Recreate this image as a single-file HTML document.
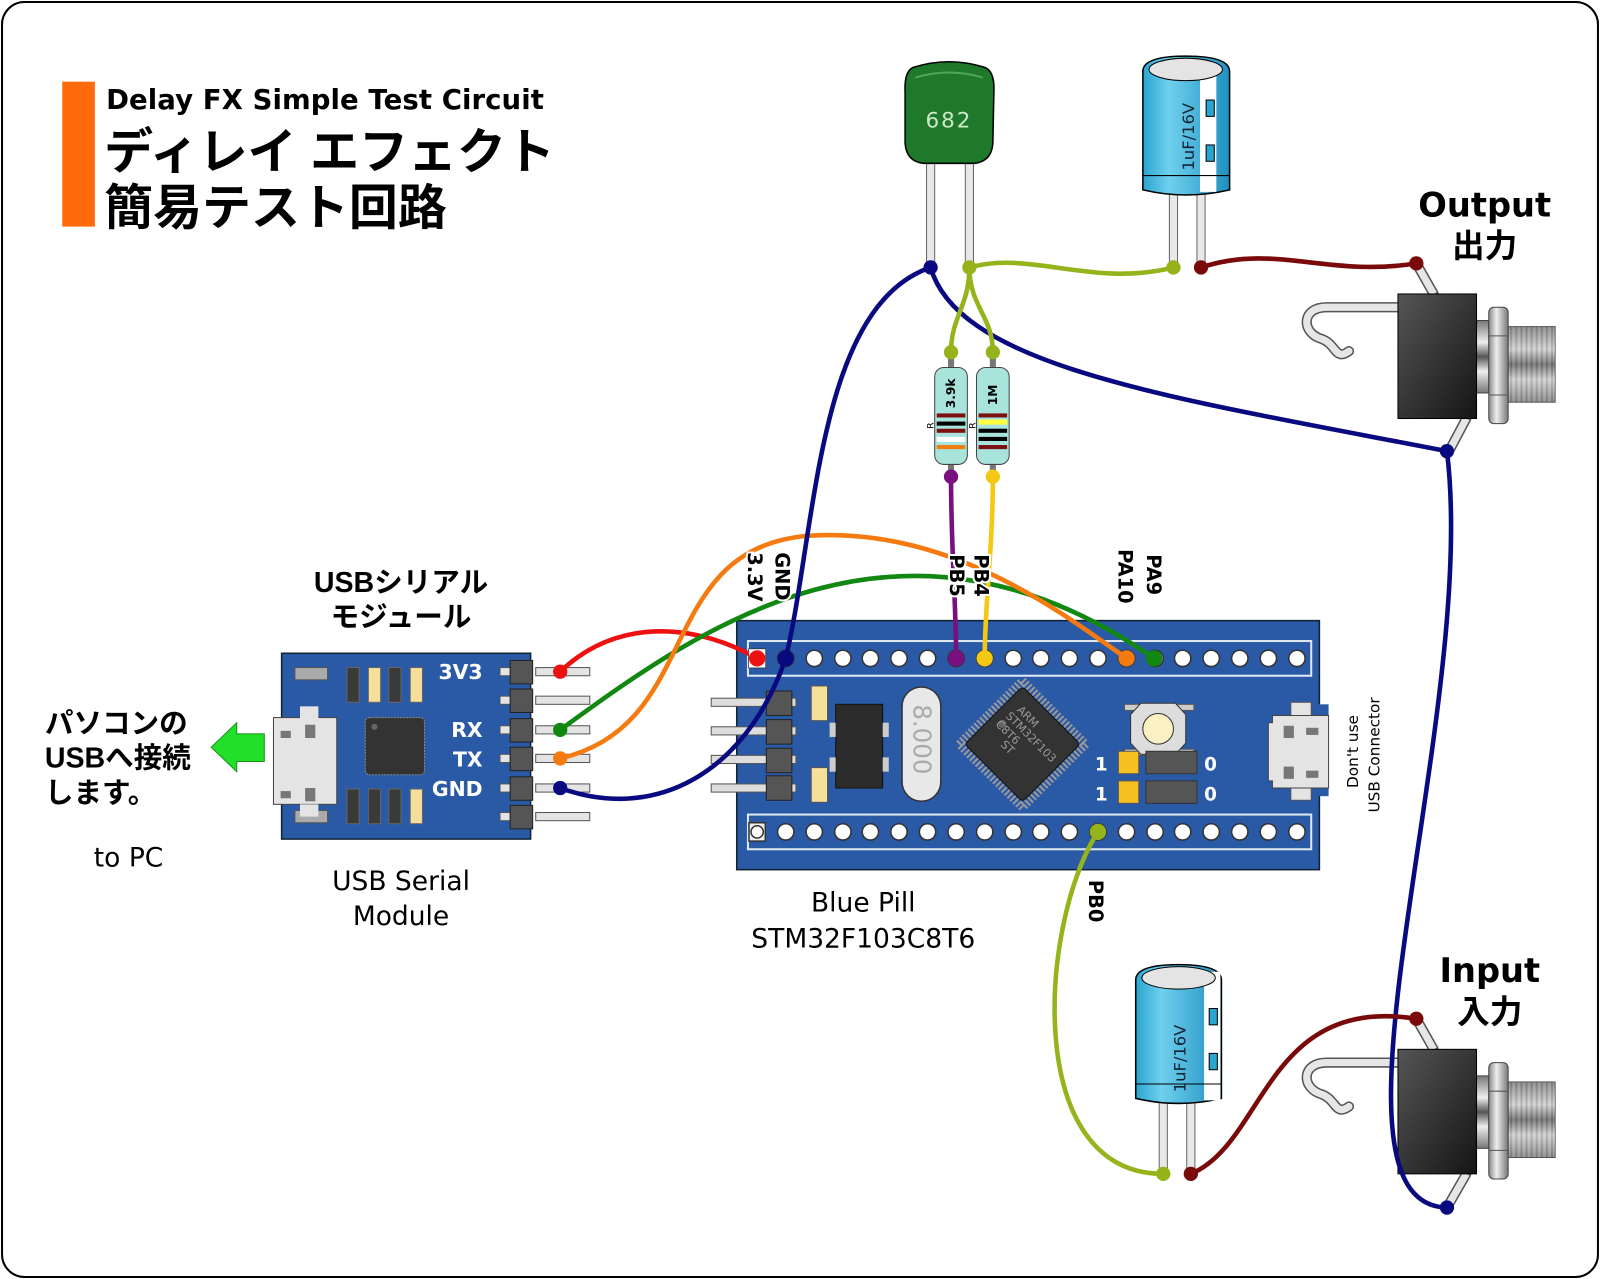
<!DOCTYPE html>
<html><head><meta charset="utf-8"><style>
html,body{margin:0;padding:0;background:#fff;width:1600px;height:1279px;overflow:hidden}
svg{display:block}
text{font-family:"DejaVu Sans","Liberation Sans","Noto Sans CJK JP",sans-serif}
.jp{font-family:"Liberation Sans","Noto Sans CJK JP",sans-serif}
</style></head><body>
<svg width="1600" height="1279" viewBox="0 0 1568 1253" preserveAspectRatio="none" xmlns="http://www.w3.org/2000/svg">
<defs>
<linearGradient id="jb" x1="0" y1="0" x2="1" y2="1"><stop offset="0" stop-color="#555"/><stop offset="1" stop-color="#151515"/></linearGradient>
<linearGradient id="th" x1="0" y1="0" x2="0" y2="1"><stop offset="0" stop-color="#777"/><stop offset=".3" stop-color="#eee"/><stop offset=".5" stop-color="#555"/><stop offset=".7" stop-color="#eee"/><stop offset="1" stop-color="#777"/></linearGradient>
<linearGradient id="nt" x1="0" y1="0" x2="1" y2="0"><stop offset="0" stop-color="#888"/><stop offset=".4" stop-color="#eee"/><stop offset="1" stop-color="#777"/></linearGradient>
<pattern id="thr" width="5" height="10" patternUnits="userSpaceOnUse"><rect width="5" height="10" fill="#bbb"/><rect width="2" height="10" fill="#777"/></pattern>
<linearGradient id="ec" x1="0" y1="0" x2="1" y2="0"><stop offset="0" stop-color="#2aa5d0"/><stop offset=".3" stop-color="#6fd0ee"/><stop offset="1" stop-color="#1f90c0"/></linearGradient>
<g id="jack">
<path d="M0,-3 L-70,-3 C-95,-3 -95,22 -75,28 C-60,33 -62,50 -48,40" fill="none" stroke="#555" stroke-width="10" stroke-linecap="round"/>
<path d="M0,-3 L-70,-3 C-95,-3 -95,22 -75,28 C-60,33 -62,50 -48,40" fill="none" stroke="#e6e6e6" stroke-width="7" stroke-linecap="round"/>
<rect x="76" y="10" width="13" height="71" fill="url(#th)" stroke="#444"/>
<rect x="108" y="16" width="46" height="74" fill="url(#thr)" stroke="#444"/>
<rect x="108" y="16" width="46" height="74" fill="url(#th)" opacity=".55"/>
<rect x="89" y="-3" width="19" height="114" rx="5" fill="url(#nt)" stroke="#444"/>
<line x1="89" y1="25" x2="108" y2="25" stroke="#555"/><line x1="89" y1="83" x2="108" y2="83" stroke="#555"/>
<rect x="0" y="-16" width="77" height="122" fill="url(#jb)" stroke="#000"/>
</g>
</defs>
<rect x="2" y="2" width="1564" height="1249" rx="22" fill="#fff" stroke="#000" stroke-width="2"/>

<!-- title -->
<rect x="61" y="80" width="32" height="142" fill="#ff6a0c"/>
<text x="104" y="107" font-size="27" font-weight="bold" textLength="429">Delay FX Simple Test Circuit</text>
<text class="jp" x="102" y="165" font-size="48" font-weight="bold">ディレイ エフェクト</text>
<text class="jp" x="102" y="220" font-size="48" font-weight="bold">簡易テスト回路</text>

<!-- ceramic cap -->
<rect x="908" y="150" width="8" height="112" fill="#e8e8e8" stroke="#666"/>
<rect x="946" y="150" width="8" height="112" fill="#e8e8e8" stroke="#666"/>
<path d="M895,66 Q930,55 965,66 Q975,70 974,90 L973,140 Q972,158 955,160 L905,160 Q888,158 887,140 L887,90 Q886,70 895,66Z" fill="#1e7a2a" stroke="#000" stroke-width="1.5"/>
<path d="M897,76 Q930,66 963,76" fill="none" stroke="#4da65a" stroke-width="2"/>
<text x="930" y="125" font-size="21" fill="#cfe8c9" text-anchor="middle" letter-spacing="2">682</text>

<!-- electrolytic top -->
<rect x="1146" y="185" width="8" height="77" fill="#e8e8e8" stroke="#666"/>
<rect x="1173" y="185" width="8" height="77" fill="#e8e8e8" stroke="#666"/>
<path d="M1120,70 Q1120,55 1162,55 Q1205,55 1205,70 L1205,186 Q1162,196 1120,186Z" fill="url(#ec)" stroke="#000" stroke-width="1.5"/>
<rect x="1176" y="62" width="16" height="126" fill="#fff"/>
<rect x="1182" y="98" width="8" height="16" fill="#2aa5d0" stroke="#000"/><rect x="1182" y="142" width="8" height="16" fill="#2aa5d0" stroke="#000"/>
<ellipse cx="1162" cy="68" rx="36" ry="11" fill="#e4e4e4" stroke="#000"/>
<line x1="1120" y1="172" x2="1205" y2="172" stroke="#000"/>
<text transform="translate(1170,167) rotate(-90)" font-size="16" fill="#123">1uF/16V</text>

<!-- electrolytic bottom -->
<rect x="1136" y="1075" width="8" height="75" fill="#e8e8e8" stroke="#666"/>
<rect x="1163" y="1075" width="8" height="75" fill="#e8e8e8" stroke="#666"/>
<path d="M1113,960 Q1113,945 1155,945 Q1197,945 1197,960 L1197,1076 Q1155,1086 1113,1076Z" fill="url(#ec)" stroke="#000" stroke-width="1.5"/>
<rect x="1180" y="952" width="16" height="126" fill="#fff"/>
<rect x="1185" y="988" width="8" height="16" fill="#2aa5d0" stroke="#000"/><rect x="1185" y="1032" width="8" height="16" fill="#2aa5d0" stroke="#000"/>
<ellipse cx="1155" cy="958" rx="36" ry="11" fill="#e4e4e4" stroke="#000"/>
<line x1="1113" y1="1062" x2="1197" y2="1062" stroke="#000"/>
<text transform="translate(1162,1070) rotate(-90)" font-size="16" fill="#123">1uF/16V</text>

<!-- resistors -->
<g>
<rect x="929" y="345" width="6" height="120" fill="#777"/>
<rect x="970" y="345" width="6" height="120" fill="#777"/>
<rect x="916" y="360" width="32" height="95" rx="9" fill="#a8e4dc" stroke="#444"/>
<rect x="957" y="360" width="32" height="95" rx="9" fill="#a8e4dc" stroke="#444"/>
<rect x="918" y="405" width="28" height="4" fill="#7a1010"/><rect x="918" y="413" width="28" height="4" fill="#000"/><rect x="918" y="420" width="28" height="4" fill="#7a1010"/><rect x="918" y="428" width="28" height="5" fill="#fff"/><rect x="918" y="436" width="28" height="4" fill="#f07d10"/>
<rect x="959" y="405" width="28" height="4" fill="#7a1010"/><rect x="959" y="411" width="28" height="5" fill="#ffff40"/><rect x="959" y="420" width="28" height="4" fill="#000"/><rect x="959" y="428" width="28" height="4" fill="#000"/><rect x="959" y="436" width="28" height="4" fill="#7a1010"/>
<text transform="translate(936,400) rotate(-90)" font-size="12" font-weight="bold">3.9k</text>
<text transform="translate(977,397) rotate(-90)" font-size="12" font-weight="bold">1M</text>
<text transform="translate(915,420) rotate(-90)" font-size="9">R</text>
<text transform="translate(956,420) rotate(-90)" font-size="9">R</text>
</g>

<!-- jacks -->
<g transform="translate(1370,304)">
<path d="M18,-46 L35,-16" stroke="#555" stroke-width="10" stroke-linecap="round"/><path d="M18,-46 L35,-16" stroke="#e6e6e6" stroke-width="7"/>
<path d="M50,138 L67,106" stroke="#555" stroke-width="10" stroke-linecap="round"/><path d="M50,138 L67,106" stroke="#e6e6e6" stroke-width="7"/>
<use href="#jack"/></g>
<g transform="translate(1370,1044)">
<path d="M18,-46 L35,-16" stroke="#555" stroke-width="10" stroke-linecap="round"/><path d="M18,-46 L35,-16" stroke="#e6e6e6" stroke-width="7"/>
<path d="M48,139 L67,106" stroke="#555" stroke-width="10" stroke-linecap="round"/><path d="M48,139 L67,106" stroke="#e6e6e6" stroke-width="7"/>
<use href="#jack"/></g>
<text x="1455" y="212" font-size="33" font-weight="bold" text-anchor="middle">Output</text>
<text class="jp" x="1455" y="252" font-size="32" font-weight="bold" text-anchor="middle">出力</text>
<text x="1460" y="962" font-size="33" font-weight="bold" text-anchor="middle">Input</text>
<text class="jp" x="1460" y="1002" font-size="32" font-weight="bold" text-anchor="middle">入力</text>

<!-- Blue pill -->
<rect x="722" y="608" width="571" height="244" fill="#2a5aa6" stroke="#123" stroke-width="1.5"/>
<rect x="733" y="628" width="552" height="34" fill="none" stroke="#dfe8f5" stroke-width="2"/>
<rect x="733" y="798" width="552" height="34" fill="none" stroke="#dfe8f5" stroke-width="2"/>
<g fill="#fff" stroke="#333" stroke-width="1.5">
<rect x="734" y="636" width="16" height="18" fill="#eee"/><rect x="734" y="806" width="16" height="18" fill="#eee"/>
<circle cx="770" cy="645" r="8"/><circle cx="798" cy="645" r="8"/><circle cx="826" cy="645" r="8"/><circle cx="853" cy="645" r="8"/><circle cx="881" cy="645" r="8"/><circle cx="909" cy="645" r="8"/><circle cx="937" cy="645" r="8"/><circle cx="965" cy="645" r="8"/><circle cx="993" cy="645" r="8"/><circle cx="1020" cy="645" r="8"/><circle cx="1048" cy="645" r="8"/><circle cx="1076" cy="645" r="8"/><circle cx="1104" cy="645" r="8"/><circle cx="1132" cy="645" r="8"/><circle cx="1159" cy="645" r="8"/><circle cx="1187" cy="645" r="8"/><circle cx="1215" cy="645" r="8"/><circle cx="1243" cy="645" r="8"/><circle cx="1271" cy="645" r="8"/>
<circle cx="742" cy="815" r="6"/><circle cx="770" cy="815" r="8"/><circle cx="798" cy="815" r="8"/><circle cx="826" cy="815" r="8"/><circle cx="853" cy="815" r="8"/><circle cx="881" cy="815" r="8"/><circle cx="909" cy="815" r="8"/><circle cx="937" cy="815" r="8"/><circle cx="965" cy="815" r="8"/><circle cx="993" cy="815" r="8"/><circle cx="1020" cy="815" r="8"/><circle cx="1048" cy="815" r="8"/><circle cx="1076" cy="815" r="8"/><circle cx="1104" cy="815" r="8"/><circle cx="1132" cy="815" r="8"/><circle cx="1159" cy="815" r="8"/><circle cx="1187" cy="815" r="8"/><circle cx="1215" cy="815" r="8"/><circle cx="1243" cy="815" r="8"/><circle cx="1271" cy="815" r="8"/>
</g>
<!-- left header -->
<g fill="#ddd" stroke="#555"><rect x="697" y="684" width="83" height="8"/><rect x="697" y="712" width="83" height="8"/><rect x="697" y="740" width="83" height="8"/><rect x="697" y="768" width="83" height="8"/></g>
<g fill="#555" stroke="#222"><rect x="751" y="677" width="25" height="24"/><rect x="751" y="705" width="25" height="24"/><rect x="751" y="733" width="25" height="24"/><rect x="751" y="760" width="25" height="24"/></g>
<rect x="795" y="672" width="16" height="34" fill="#f5df9a" stroke="#555"/><rect x="795" y="752" width="16" height="34" fill="#f5df9a" stroke="#555"/>
<rect x="819" y="690" width="46" height="82" fill="#2b2b2b" stroke="#111"/>
<rect x="813" y="708" width="6" height="14" fill="#ccc"/><rect x="865" y="708" width="6" height="14" fill="#ccc"/><rect x="813" y="742" width="6" height="14" fill="#ccc"/><rect x="865" y="742" width="6" height="14" fill="#ccc"/>
<rect x="884" y="673" width="38" height="112" rx="19" fill="#e8e8e8" stroke="#333" stroke-width="1.5"/>
<text transform="translate(895,690) rotate(90)" font-size="24" fill="#aaa">8.000</text>
<g transform="translate(1002,729) rotate(45)"><rect x="-44" y="-44" width="88" height="88" fill="none" stroke="#999" stroke-width="8" stroke-dasharray="2,2"/><rect x="-40" y="-40" width="80" height="80" rx="4" fill="#333" stroke="#111"/><circle cx="-28" cy="0" r="4" fill="#666"/></g>
<text transform="translate(996,696) rotate(45)" font-size="11" fill="#999">ARM</text>
<text transform="translate(985,702) rotate(45)" font-size="11" fill="#999">STM32F103</text>
<text transform="translate(975,710) rotate(45)" font-size="11" fill="#999">C8T6</text>
<text transform="translate(980,730) rotate(45)" font-size="11" fill="#999">ST</text>
<rect x="1102" y="690" width="68" height="6" fill="#ccc" stroke="#555"/><rect x="1102" y="734" width="68" height="6" fill="#ccc" stroke="#555"/>
<path d="M1118,689 L1152,689 L1162,700 L1162,728 L1152,739 L1118,739 L1108,728 L1108,700Z" fill="#ddd" stroke="#333"/>
<circle cx="1135" cy="714" r="15" fill="#fbefc4" stroke="#333"/>
<rect x="1096" y="736" width="20" height="22" fill="#f5c020" stroke="#555"/><rect x="1096" y="765" width="20" height="22" fill="#f5c020" stroke="#555"/>
<rect x="1123" y="736" width="50" height="22" fill="#555" stroke="#333"/><rect x="1123" y="765" width="50" height="22" fill="#555" stroke="#333"/>
<text x="1073" y="755" font-size="18" font-weight="bold" fill="#fff">1</text><text x="1073" y="784" font-size="18" font-weight="bold" fill="#fff">1</text>
<text x="1180" y="755" font-size="18" font-weight="bold" fill="#fff">0</text><text x="1180" y="784" font-size="18" font-weight="bold" fill="#fff">0</text>
<rect x="1288" y="690" width="14" height="90" fill="#2a5aa6"/>
<rect x="1265" y="688" width="20" height="14" fill="#e4e4e4" stroke="#555"/><rect x="1265" y="770" width="20" height="14" fill="#e4e4e4" stroke="#555"/>
<path d="M1247,701 L1302,701 L1302,772 L1247,772 L1247,765 L1243,765 L1243,708 L1247,708Z" fill="#e4e4e4" stroke="#444"/>
<rect x="1258" y="711" width="10" height="12" fill="#777"/><rect x="1258" y="751" width="10" height="12" fill="#777"/><rect x="1280" y="713" width="12" height="7" fill="#777"/><rect x="1280" y="755" width="12" height="7" fill="#777"/>
<text transform="translate(1331,772) rotate(-90)" font-size="15" text-anchor="start">Don't use</text>
<text transform="translate(1352,796) rotate(-90)" font-size="15">USB Connector</text>

<!-- USB serial module -->
<rect x="276" y="640" width="244" height="182" fill="#2a5aa6" stroke="#123" stroke-width="1.5"/>
<g fill="#e4e4e4" stroke="#555"><rect x="525" y="654" width="53" height="8"/><rect x="525" y="682" width="53" height="8"/><rect x="525" y="711" width="53" height="8"/><rect x="525" y="739" width="53" height="8"/><rect x="525" y="768" width="53" height="8"/><rect x="525" y="796" width="53" height="8"/>
<rect x="490" y="654" width="10" height="8"/><rect x="490" y="682" width="10" height="8"/><rect x="490" y="711" width="10" height="8"/><rect x="490" y="739" width="10" height="8"/><rect x="490" y="768" width="10" height="8"/><rect x="490" y="796" width="10" height="8"/></g>
<g fill="#555" stroke="#222"><rect x="500" y="647" width="22" height="23"/><rect x="500" y="675" width="22" height="23"/><rect x="500" y="704" width="22" height="23"/><rect x="500" y="732" width="22" height="23"/><rect x="500" y="761" width="22" height="23"/><rect x="500" y="789" width="22" height="23"/></g>
<rect x="289" y="654" width="32" height="12" fill="#aaa" stroke="#555"/><rect x="289" y="794" width="32" height="12" fill="#aaa" stroke="#555"/>
<g stroke="#666"><rect x="340" y="654" width="12" height="34" fill="#3a3a3a"/><rect x="361" y="654" width="12" height="34" fill="#f5df9a"/><rect x="381" y="654" width="12" height="34" fill="#3a3a3a"/><rect x="402" y="654" width="12" height="34" fill="#f5df9a"/>
<rect x="340" y="773" width="12" height="34" fill="#3a3a3a"/><rect x="361" y="773" width="12" height="34" fill="#3a3a3a"/><rect x="381" y="773" width="12" height="34" fill="#3a3a3a"/><rect x="402" y="773" width="12" height="34" fill="#f5df9a"/></g>
<rect x="358" y="703" width="58" height="56" rx="4" fill="#333" stroke="#888" stroke-dasharray="2,1"/><circle cx="367" cy="712" r="3" fill="#666"/>
<rect x="268" y="703" width="62" height="85" fill="#e4e4e4" stroke="#444"/>
<rect x="294" y="692" width="18" height="12" fill="#e4e4e4"/><rect x="294" y="788" width="18" height="12" fill="#e4e4e4"/>
<rect x="275" y="716" width="10" height="7" fill="#777"/><rect x="275" y="775" width="10" height="7" fill="#777"/><rect x="299" y="710" width="10" height="13" fill="#777"/><rect x="299" y="772" width="10" height="13" fill="#777"/>
<text x="473" y="665" font-size="20" font-weight="bold" fill="#fff" text-anchor="end">3V3</text>
<text x="473" y="722" font-size="20" font-weight="bold" fill="#fff" text-anchor="end">RX</text>
<text x="473" y="751" font-size="20" font-weight="bold" fill="#fff" text-anchor="end">TX</text>
<text x="473" y="780" font-size="20" font-weight="bold" fill="#fff" text-anchor="end">GND</text>
<path d="M207,732 L232,708 L232,719 L259,719 L259,746 L232,746 L232,756Z" fill="#22e02a" stroke="#159018"/>

<!-- texts -->
<text class="jp" x="393" y="580" font-size="28" font-weight="bold" text-anchor="middle">USBシリアル</text>
<text class="jp" x="393" y="614" font-size="28" font-weight="bold" text-anchor="middle">モジュール</text>
<text class="jp" x="44" y="718" font-size="28" font-weight="bold">パソコンの</text>
<text class="jp" x="44" y="752" font-size="28" font-weight="bold">USBへ接続</text>
<text class="jp" x="44" y="786" font-size="28" font-weight="bold">します。</text>
<text x="126" y="849" font-size="26" text-anchor="middle">to PC</text>
<text x="393" y="872" font-size="26" text-anchor="middle">USB Serial</text>
<text x="393" y="906" font-size="26" text-anchor="middle">Module</text>
<text x="846" y="893" font-size="26" text-anchor="middle">Blue Pill</text>
<text x="846" y="928" font-size="26" text-anchor="middle">STM32F103C8T6</text>

<!-- wires -->
<g fill="none" stroke-width="4.5" stroke-linecap="round">
<path d="M549,658 C610,600 690,615 742,645" stroke="#ee1111"/>
<path d="M549,715 C680,620 880,470 1131,645" stroke="#118811"/>
<path d="M549,743 C690,710 640,540 790,525 C930,515 1040,600 1104,645" stroke="#f57a10"/>
<path d="M549,772 C640,805 730,760 770,645 C800,520 800,300 912,262" stroke="#0a0a80"/>
<path d="M912,262 C940,360 1150,390 1418,442 C1450,700 1280,1180 1418,1183" stroke="#0a0a80"/>
<path d="M950,262 C1010,245 1070,282 1150,262" stroke="#95b41c"/>
<path d="M950,262 C950,300 932,310 932,345 M950,262 C950,300 973,310 973,345" stroke="#95b41c"/>
<path d="M1177,262 C1250,238 1300,272 1388,258" stroke="#7a0a0a"/>
<path d="M932,467 C932,540 937,590 937,645" stroke="#7a1080"/>
<path d="M973,467 C973,540 965,590 965,645" stroke="#f5c814"/>
<path d="M1076,815 C1020,900 1000,1150 1140,1150" stroke="#95b41c"/>
<path d="M1167,1150 C1240,1120 1240,975 1388,998" stroke="#7a0a0a"/>
</g>
<g>
<circle cx="549" cy="658" r="7" fill="#ee1111"/><circle cx="549" cy="715" r="7" fill="#118811"/><circle cx="549" cy="743" r="7" fill="#f57a10"/><circle cx="549" cy="772" r="7" fill="#0a0a80"/>
<rect x="734" y="636" width="16" height="18" fill="#fff"/><circle cx="742" cy="645" r="8" fill="#ee1111"/><circle cx="770" cy="645" r="8" fill="#0a0a80"/><circle cx="937" cy="645" r="8" fill="#7a1080"/><circle cx="965" cy="645" r="8" fill="#f5c814"/><circle cx="1104" cy="645" r="8" fill="#f57a10"/><circle cx="1131" cy="645" r="8" fill="#118811"/><circle cx="1076" cy="815" r="8" fill="#95b41c"/>
<circle cx="912" cy="262" r="7" fill="#0a0a80"/><circle cx="950" cy="262" r="7" fill="#95b41c"/><circle cx="1150" cy="262" r="7" fill="#95b41c"/><circle cx="1177" cy="262" r="7" fill="#7a0a0a"/><circle cx="1388" cy="258" r="7" fill="#7a0a0a"/><circle cx="1418" cy="442" r="7" fill="#0a0a80"/>
<circle cx="932" cy="345" r="7" fill="#95b41c"/><circle cx="973" cy="345" r="7" fill="#95b41c"/><circle cx="932" cy="467" r="7" fill="#7a1080"/><circle cx="973" cy="467" r="7" fill="#f5c814"/>
<circle cx="1140" cy="1150" r="7" fill="#95b41c"/><circle cx="1167" cy="1150" r="7" fill="#7a0a0a"/><circle cx="1388" cy="998" r="7" fill="#7a0a0a"/><circle cx="1418" cy="1183" r="7" fill="#0a0a80"/>
</g>
<!-- pin labels -->
<g font-size="19" font-weight="bold" stroke="#fff" stroke-width="4" paint-order="stroke" fill="#000">
<text transform="translate(733,541) rotate(90)">3.3V</text>
<text transform="translate(760,541) rotate(90)">GND</text>
<text transform="translate(931,543) rotate(90)">PB5</text>
<text transform="translate(955,543) rotate(90)">PB4</text>
<text transform="translate(1096,538) rotate(90)">PA10</text>
<text transform="translate(1124,543) rotate(90)">PA9</text>
<text transform="translate(1067,862) rotate(90)">PB0</text>
</g>
</svg>
</body></html>
